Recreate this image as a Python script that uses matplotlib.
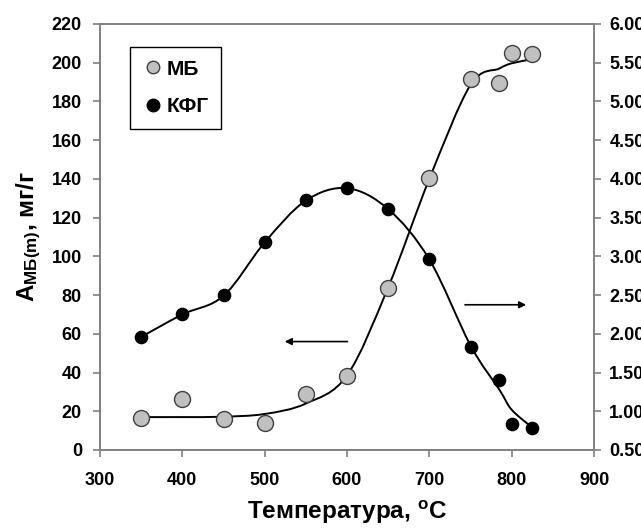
import numpy as np
import matplotlib
matplotlib.use("Agg")
from matplotlib import pyplot as plt
from matplotlib.path import Path
from matplotlib.patches import PathPatch
from matplotlib.lines import Line2D

plt.rcParams['font.family'] = ['Liberation Sans', 'DejaVu Sans']
plt.rcParams['font.weight'] = 'bold'
plt.rcParams['mathtext.fontset'] = 'custom'
plt.rcParams['mathtext.rm'] = 'Liberation Sans:weight=bold'
plt.rcParams['mathtext.bf'] = 'Liberation Sans:weight=bold'
plt.rcParams['mathtext.it'] = 'Liberation Sans:weight=bold'

# temperatura, C
T = [350, 400, 450, 500, 550, 600, 650, 700, 750, 785, 800, 825]
# MB adsorbcija (kaire asis), mg/g
mb = [16.5, 26.2, 16.0, 14.1, 28.9, 38.4, 83.5, 140.4, 191.5, 189.7, 204.9, 204.5]
# KFG (desine asis)
kfg = [1.96, 2.25, 2.50, 3.18, 3.73, 3.88, 3.61, 2.96, 1.83, 1.40, 0.84, 0.79]

# isglodintos kreives (nuskaitytos nuo paveikslo)
mb_fit = [17.0, 17.0, 17.2, 18.6, 24.0, 38.5, 84.0, 140.0, 188.5, 197.0, 199.7, 201.8]
kfg_fit = [1.96, 2.25, 2.49, 3.18, 3.72, 3.88, 3.61, 2.96, 1.85, 1.28, 1.02, 0.79]


def gludi(ax, x, y, **kw):
    # Catmull-Rom -> Bezier, kaip Excel glodinta linija
    x = np.asarray(x, float); y = np.asarray(y, float)
    p = np.column_stack([x, y])
    pp = np.vstack([p[0], p, p[-1]])
    verts = [p[0]]
    codes = [Path.MOVETO]
    for i in range(len(p) - 1):
        p0, p1, p2, p3 = pp[i], pp[i + 1], pp[i + 2], pp[i + 3]
        c1 = p1 + (p2 - p0) / 6
        c2 = p2 - (p3 - p1) / 6
        verts += [c1, c2, p2]
        codes += [Path.CURVE4] * 3
    ax.add_patch(PathPatch(Path(verts, codes), fill=False, **kw))


fig = plt.figure(figsize=(6.41, 5.30), dpi=100)
ax = fig.add_axes([100 / 641, 1 - 450 / 530, 494 / 641, 426 / 530])
ax2 = ax.twinx()

gludi(ax, T, mb_fit, color="black", lw=1.4, zorder=2)
gludi(ax2, T, kfg_fit, color="black", lw=1.4, zorder=2)

ax.plot(T, mb, "o", ms=11.5, mfc="#c0c0c0", mec="#404040", mew=1.0, ls="none", zorder=3)
ax2.plot(T, kfg, "o", ms=8.8, mfc="black", mec="black", ls="none", zorder=3)

ax.set_xlim(300, 900)
ax.set_ylim(0, 220)
ax2.set_ylim(0.5, 6.0)
ax.set_xticks(np.arange(300, 901, 100))
ax.set_yticks(np.arange(0, 221, 20))
ax2.set_yticks(np.arange(0.5, 6.01, 0.5))
ax2.set_yticklabels(["%.2f" % v for v in np.arange(0.5, 6.01, 0.5)])

for a in (ax, ax2):
    for s in a.spines.values():
        s.set_color("#808080")
        s.set_linewidth(1.2)
    a.tick_params(direction="out", length=5, width=1.2, color="#808080", labelsize=13)
ax.tick_params(axis="y", pad=8)
ax.tick_params(axis="x", pad=11)
ax2.tick_params(axis="y", pad=6)

ax.set_xlabel(r"Температура, $^{\rm o}$C", fontsize=17.5, fontweight="bold", labelpad=7)
ax.set_ylabel(r"А$_{\rm МБ(m)}$, мг/г", fontsize=17.5, fontweight="bold", labelpad=6)

# rodykles
ax.annotate("", xy=(521, 56), xytext=(604, 56),
            arrowprops=dict(arrowstyle="-|>", color="black", lw=1.2, mutation_scale=10))
ax.annotate("", xy=(821, 75), xytext=(740, 75),
            arrowprops=dict(arrowstyle="-|>", color="black", lw=1.2, mutation_scale=10))

h1 = Line2D([], [], marker="o", ms=9, mfc="#c0c0c0", mec="#404040", mew=1.0, ls="none")
h2 = Line2D([], [], marker="o", ms=9, mfc="black", mec="black", ls="none")
leg = ax.legend([h1, h2], ["МБ", "КФГ"], loc="upper left", bbox_to_anchor=(0.0607, 0.946),
                borderaxespad=0, fontsize=15, fancybox=False, framealpha=1, edgecolor="black",
                handletextpad=0.15, handlelength=1.0, borderpad=0.6, labelspacing=0.9)
leg.get_frame().set_linewidth(1.0)
leg.set_zorder(5)

fig.savefig("out.png", dpi=100)
